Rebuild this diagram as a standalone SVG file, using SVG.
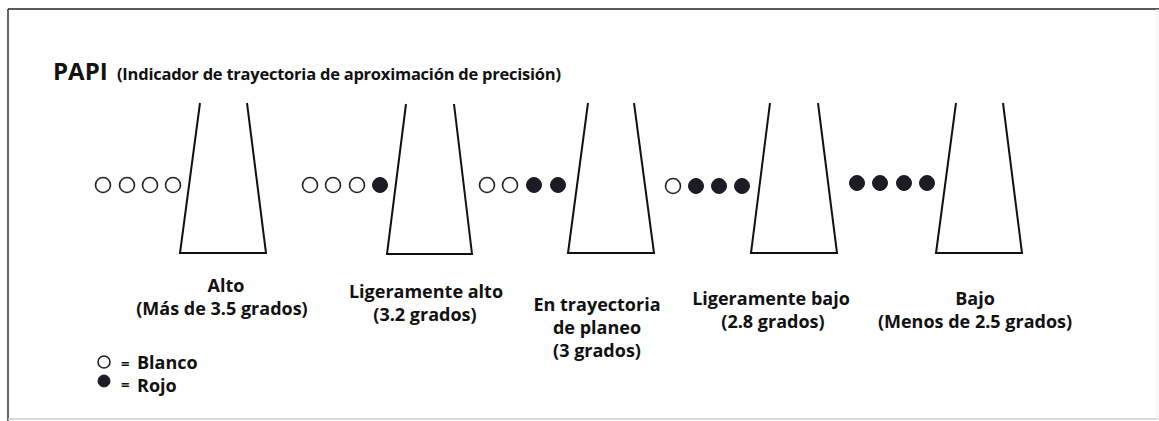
<svg xmlns="http://www.w3.org/2000/svg" width="1159" height="421" viewBox="0 0 1159 421">
<style>
.t{font-family:"Open Sans","Liberation Sans",sans-serif;font-weight:700;fill:#111;}
.lb{font-size:18px;text-anchor:middle;}
.lg{font-size:18px;}
.trap{fill:none;stroke:#111;stroke-width:2;stroke-linejoin:miter;}
.w{fill:#fff;stroke:#222;stroke-width:1.6;}
.r{fill:#1c1c26;stroke:#1c1c26;stroke-width:1;}
</style>
<rect width="1159" height="421" fill="#fff"/>
<g id="frame">
<line x1="8" y1="9" x2="1159" y2="9" stroke="#222" stroke-width="1.5"/>
<line x1="8" y1="9" x2="8" y2="421" stroke="#333" stroke-width="1.5"/>
<line x1="8" y1="419" x2="1159" y2="419" stroke="#ccc" stroke-width="1.5"/>
<line x1="1157" y1="9" x2="1157" y2="421" stroke="#eee" stroke-width="1"/>
</g>
<g id="title">
<text class="t" x="53" y="80" font-size="24">PAPI</text>
<text class="t" x="117" y="80" font-size="16.5" textLength="444" lengthAdjust="spacing">(Indicador de trayectoria de aproximación de precisión)</text>
</g>
<g id="alto">
<polyline class="trap" points="200,103 180,253 266,253 247,103"/>
<circle class="w" cx="103" cy="185" r="7.5"/><circle class="w" cx="127" cy="185" r="7.5"/><circle class="w" cx="150" cy="185" r="7.5"/><circle class="w" cx="173" cy="185" r="7.5"/>
<text class="t lb" x="226" y="292">Alto</text>
<text class="t lb" x="222" y="315">(Más de 3.5 grados)</text>
</g>
<g id="ligeramente-alto">
<polyline class="trap" points="406,104 387,254 472,254 454,104"/>
<circle class="w" cx="310" cy="185" r="7.5"/><circle class="w" cx="333" cy="185" r="7.5"/><circle class="w" cx="357" cy="185" r="7.5"/><circle class="r" cx="380" cy="185" r="7.5"/>
<text class="t lb" x="426" y="298">Ligeramente alto</text>
<text class="t lb" x="425" y="321">(3.2 grados)</text>
</g>
<g id="en-trayectoria">
<polyline class="trap" points="588,103 568,253 654,253 634,103"/>
<circle class="w" cx="487" cy="185" r="7.5"/><circle class="w" cx="510" cy="185" r="7.5"/><circle class="r" cx="534" cy="185" r="7.5"/><circle class="r" cx="558" cy="185" r="7.5"/>
<text class="t lb" x="597" y="311">En trayectoria</text>
<text class="t lb" x="597" y="334">de planeo</text>
<text class="t lb" x="597" y="357">(3 grados)</text>
</g>
<g id="ligeramente-bajo">
<polyline class="trap" points="770,103 751,253 837,253 818,103"/>
<circle class="w" cx="673" cy="186" r="7.5"/><circle class="r" cx="696" cy="186" r="7.5"/><circle class="r" cx="719" cy="186" r="7.5"/><circle class="r" cx="742" cy="186" r="7.5"/>
<text class="t lb" x="771" y="305">Ligeramente bajo</text>
<text class="t lb" x="773" y="328">(2.8 grados)</text>
</g>
<g id="bajo">
<polyline class="trap" points="956,103 936,253 1022,253 1003,103"/>
<circle class="r" cx="857" cy="183" r="7.5"/><circle class="r" cx="880" cy="183" r="7.5"/><circle class="r" cx="904" cy="183" r="7.5"/><circle class="r" cx="927" cy="183" r="7.5"/>
<text class="t lb" x="975" y="305">Bajo</text>
<text class="t lb" x="975" y="328">(Menos de 2.5 grados)</text>
</g>
<g id="legend">
<circle class="w" cx="104" cy="362" r="6"/>
<text class="t" x="121" y="369" font-size="15">=</text>
<text class="t lg" x="137" y="369">Blanco</text>
<circle class="r" cx="104" cy="381" r="6"/>
<text class="t" x="121" y="390" font-size="15">=</text>
<text class="t lg" x="137" y="392">Rojo</text>
</g>
<g id="connectors"/>
</svg>
